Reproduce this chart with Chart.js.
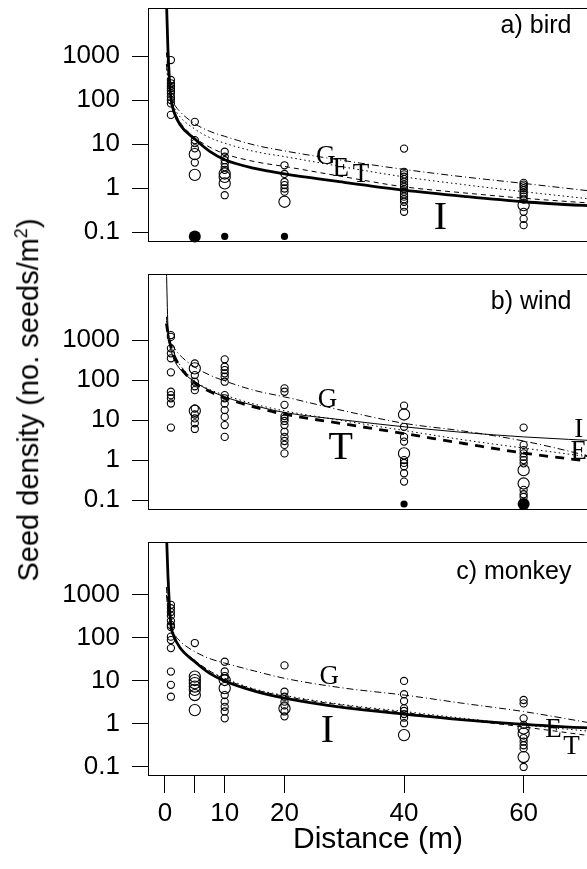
<!DOCTYPE html>
<html>
<head>
<meta charset="utf-8">
<script src="https://cdn.jsdelivr.net/npm/chart.js@4.4.1/dist/chart.umd.min.js"></script>
<style>
  html, body { margin: 0; padding: 0; width: 587px; height: 869px; overflow: hidden; background: #fff; }
  canvas.panel { position: absolute; left: 0; }
  .axis-title { position: absolute; font-family: 'Liberation Sans', Arial, Helvetica, sans-serif; color: #000; white-space: nowrap; }
  #ytitle { left: 28px; top: 400px; font-size: 29px; transform: translate(-50%, -50%) rotate(-90deg); }
  #ytitle sup { font-size: 18px; }
  #xtitle { left: 378px; top: 838px; font-size: 30px; transform: translate(-50%, -50%); }
</style>
</head>
<body>
<canvas id="bird" class="panel" width="620" height="250" style="top:0px"></canvas>
<canvas id="wind" class="panel" width="620" height="250" style="top:266px"></canvas>
<canvas id="monkey" class="panel" width="620" height="335" style="top:534px"></canvas>
<div id="ytitle" class="axis-title">Seed density (no. seeds/m<sup>2</sup>)</div>
<div id="xtitle" class="axis-title">Distance (m)</div>

<script>
// ────────────────────────────────────────
// Data
// ────────────────────────────────────────
const sampleDist = [1, 5, 10, 20, 40, 60];
const xTickVals = [0, 5, 10, 20, 40, 60];
const xTickLabels = ['0', '', '10', '20', '40', '60'];
const yTickVals = [0.1, 1, 10, 100, 1000];
const yTickLabels = ['0.1', '1', '10', '100', '1000'];
const ZERO_LEVEL = 0.08; // traps with no seeds, drawn under the 0.1 tick

// model curves, sampled at these distances
const curveX = [0.25, 0.5, 0.75, 1, 1.5, 2.5, 5, 7.5, 10, 15, 20, 30, 40, 50, 60, 75];

// a) bird
const birdDens = [
  [810, 285, 240, 210, 185, 163, 142, 118, 100, 84, 46],
  [32, 12.3, 10.5, 8, 3.8],
  [6.7, 5.2, 4.3, 3.6, 3.0, 2.6, 0.69],
  [3.3, 2.1, 1.38, 1.17, 0.98, 0.83],
  [7.9, 2.35, 2.05, 1.81, 1.6, 1.39, 1.2, 1.07, 0.95, 0.83, 0.72, 0.64, 0.56, 0.49, 0.38, 0.29],
  [1.32, 1.2, 1.1, 1.0, 0.9, 0.8, 0.72, 0.64, 0.55, 0.29, 0.2, 0.144],
];
const birdLarge = [[], [5.9, 2.0], [2.15, 1.8, 1.28], [0.49], [], [0.41]];
const birdZero = [0, 3, 1, 1, 0, 0];
const birdG = [650, 320, 190, 135, 85, 55, 29, 19.5, 15, 9.5, 7, 4.2, 2.66, 1.8, 1.28, 0.75];
const birdE = [650, 280, 170, 115, 70, 42, 22, 14, 10.5, 6.8, 5.2, 3.0, 1.8, 1.2, 0.83, 0.5];
const birdT = [1200, 450, 200, 120, 62, 32, 14, 8.5, 6.0, 4.0, 3.1, 1.8, 1.07, 0.78, 0.59, 0.42];
const birdI = [20000, 1500, 300, 110, 55, 28, 13, 6.8, 4.4, 2.8, 2.1, 1.35, 0.9, 0.65, 0.49, 0.37];
const birdTagX = [26.9, 29.4, 32.8, 46.1]; // G, E, T, I
const birdTagY = [5.1, 2.8, 1.97, 0.2];

// b) wind
const windDens = [
  [1330, 1200, 620, 465, 350, 156, 51, 42, 35, 26, 6.5],
  [260, 133, 91, 70, 56, 19.5, 13.8, 11, 8.3, 6],
  [330, 215, 178, 147, 121, 91, 42, 35, 26, 17.8, 12, 7.5, 3.8],
  [62, 51, 24, 12.6, 11, 9.5, 7.5, 5.1, 3.8, 3.0, 2.4, 1.47],
  [23, 6.8, 3.8, 2.9, 1.0, 0.85, 0.7, 0.47, 0.29],
  [6.5, 2.4, 1.78, 1.47, 1.2, 1.0, 0.83, 0.18, 0.14, 0.12],
];
const windLarge = [[], [196, 17], [], [], [13.8, 1.47], [0.56, 0.26]];
const windZero = [0, 0, 0, 0, 1, 3];
const windG = [3800, 1700, 1200, 900, 650, 420, 210, 133, 95, 55, 38, 17, 8.3, 5.3, 3.0, 0.9];
const windE = [3000, 1600, 1000, 720, 440, 240, 95, 58, 42, 25, 17, 9.5, 5.5, 3.2, 2.0, 1.0];
const windT = [2600, 1500, 950, 700, 420, 220, 85, 52, 36, 21, 14, 8, 4.6, 2.6, 1.5, 0.8];
const windI = [60000, 2200, 800, 560, 330, 190, 90, 55, 38, 23, 15.5, 10, 6.8, 4.9, 3.8, 2.9];
const windTagX = [27.2, 69.2, 29.4, 69.2];
const windTagY = [31.6, 1.62, 1.96, 5.6];

// c) monkey
const monkeyDens = [
  [590, 490, 400, 330, 250, 200, 180, 107, 89, 58, 16.5, 8.1, 4.3],
  [76],
  [28, 16.6, 13, 11.5, 4.7, 3.3, 2.5, 1.95, 1.35],
  [23, 5.6, 4.3, 3.3, 2.7, 1.95, 1.5],
  [10, 4.9, 3.4, 2.3, 2.0, 1.7, 1.4, 1.04],
  [3.6, 3.0, 1.35, 0.95, 0.47, 0.39, 0.32, 0.27, 0.1],
];
const monkeyLarge = [[], [12.6, 10.5, 8.9, 7.4, 6.2, 4.7, 2.1], [10.5, 6.8], [2.3], [0.55], [0.79, 0.6, 0.17]];
const monkeyZero = [0, 0, 0, 0, 0, 0];
const monkeyG = [1000, 480, 300, 210, 130, 85, 48, 33, 26, 17, 11.5, 6.8, 4.7, 3.0, 1.94, 0.85];
const monkeyE = [1500, 650, 320, 200, 115, 62, 30, 17, 11.5, 6.5, 4.6, 2.8, 1.95, 1.35, 0.95, 0.6];
const monkeyT = [1500, 650, 320, 200, 115, 62, 30, 17, 11, 6.3, 4.4, 2.7, 1.85, 1.25, 0.85, 0.45];
const monkeyI = [30000, 3000, 600, 200, 110, 60, 28, 15, 10, 5.8, 4.0, 2.4, 1.7, 1.25, 0.98, 0.75];
const monkeyTagX = [27.5, 65, 68, 27.2];
const monkeyTagY = [12.6, 0.72, 0.3, 0.66];

const modelNames = ['G', 'E', 'T', 'I'];

// ────────────────────────────────────────
// Drawing
// ────────────────────────────────────────
const SANS = "'Liberation Sans', Arial, Helvetica, sans-serif";
const SERIF = "'Liberation Serif', 'Times New Roman', Times, serif";

const DASH = { G: [7, 3, 1, 3], E: [1.5, 3], T: [5, 4], I: [] };

// frame + model letters + panel name
const panelText = {
    id: 'panelText',
    afterDatasetsDraw(chart, args, opts) {
        const { ctx, chartArea: a } = chart;
        const xs = chart.scales.x, ys = chart.scales.y;
        ctx.save();
        ctx.fillStyle = '#000';
        ctx.textBaseline = 'middle';

        ctx.textAlign = 'center';
        modelNames.forEach((m, i) => {
            ctx.font = (m === opts.best ? '40px ' : '27px ') + SERIF;
            ctx.fillText(m, xs.getPixelForValue(opts.tagX[i]), ys.getPixelForValue(opts.tagY[i]));
        });

        ctx.textAlign = 'right';
        ctx.font = '25px ' + SANS;
        ctx.fillText(opts.title, xs.getPixelForValue(opts.titleAt[0]), ys.getPixelForValue(opts.titleAt[1]));

        ctx.strokeStyle = '#000';
        ctx.lineWidth = 1;
        ctx.strokeRect(a.left + 0.5, a.top + 0.5, a.width, a.height);
        ctx.restore();
    },
};
Chart.register(panelText);

function samplePoints(dens) {
    const pts = [];
    sampleDist.forEach((d, i) => dens[i].forEach(v => pts.push({ x: d, y: v })));
    return pts;
}

function zeroPoints(zero) {
    const pts = [];
    sampleDist.forEach((d, i) => { if (zero[i] > 0) pts.push({ x: d, y: ZERO_LEVEL, n: zero[i] }); });
    return pts;
}

function curveSet(vals, model, best) {
    const thick = model === best;
    return {
        data: curveX.map((x, i) => ({ x, y: vals[i] })),
        showLine: true,
        pointRadius: 0,
        borderColor: '#000',
        borderWidth: thick ? 2.8 : 1,
        borderDash: thick ? DASH[model].map(d => d * 1.8) : DASH[model],
        cubicInterpolationMode: 'monotone',
        fill: false,
        order: 1,
    };
}

function makePanel(cfg) {
    const datasets = [
        {
            data: samplePoints(cfg.dens),
            pointRadius: 3.6,
            pointBorderWidth: 1.1,
            pointBorderColor: '#000',
            pointBackgroundColor: 'rgba(255,255,255,0)',
            order: 2,
        },
        {
            data: samplePoints(cfg.large),
            pointRadius: 5.6,
            pointBorderWidth: 1.1,
            pointBorderColor: '#000',
            pointBackgroundColor: 'rgba(255,255,255,0)',
            order: 2,
        },
        {
            data: zeroPoints(cfg.zero),
            pointRadius: ctx => (ctx.raw && ctx.raw.n > 1 ? 6 : 3.6),
            pointBorderWidth: 0,
            pointBackgroundColor: '#000',
            order: 2,
            clip: false,
        },
        curveSet(cfg.curves[0], 'G', cfg.best),
        curveSet(cfg.curves[1], 'E', cfg.best),
        curveSet(cfg.curves[2], 'T', cfg.best),
        curveSet(cfg.curves[3], 'I', cfg.best),
    ];

    new Chart(document.getElementById(cfg.id), {
        type: 'scatter',
        data: { datasets },
        options: {
            responsive: false,
            animation: false,
            events: [],
            devicePixelRatio: 1,
            layout: { padding: { top: 8, bottom: cfg.padBottom, left: 0, right: 5 } },
            plugins: {
                legend: { display: false },
                tooltip: { enabled: false },
                panelText: {
                    best: cfg.best,
                    tagX: cfg.tagX,
                    tagY: cfg.tagY,
                    title: cfg.title,
                    titleAt: cfg.titleAt,
                },
            },
            scales: {
                x: {
                    type: 'linear',
                    min: -2.83,
                    max: 75,
                    display: cfg.showX,
                    afterBuildTicks: s => { s.ticks = xTickVals.map(v => ({ value: v })); },
                    afterFit: s => {
                        s.height = cfg.showX ? 94 : 0;
                        s.paddingLeft = 0;
                        s.paddingRight = 0;
                    },
                    grid: { drawOnChartArea: false, drawTicks: true, tickLength: 18, color: '#000' },
                    border: { display: false },
                    ticks: {
                        autoSkip: false,
                        maxRotation: 0,
                        padding: 5,
                        color: '#000',
                        font: { family: SANS, size: 26 },
                        callback: (v, i) => xTickLabels[i],
                    },
                },
                y: {
                    type: 'logarithmic',
                    min: cfg.yMin,
                    max: cfg.yMax,
                    afterBuildTicks: s => { s.ticks = yTickVals.map(v => ({ value: v })); },
                    afterFit: s => { s.width = 148; s.paddingTop = 0; s.paddingBottom = 0; },
                    grid: { drawOnChartArea: false, drawTicks: true, tickLength: 16, color: '#000' },
                    border: { display: false },
                    ticks: {
                        autoSkip: false,
                        padding: 12,
                        color: '#000',
                        font: { family: SANS, size: 26 },
                        callback: (v, i) => yTickLabels[i],
                    },
                },
            },
        },
    });
}

makePanel({
    id: 'bird', dens: birdDens, large: birdLarge, zero: birdZero,
    curves: [birdG, birdE, birdT, birdI], best: 'I',
    tagX: birdTagX, tagY: birdTagY,
    title: 'a) bird', titleAt: [68, 4660],
    yMin: 0.063, yMax: 12300, padBottom: 9, showX: false,
});

makePanel({
    id: 'wind', dens: windDens, large: windLarge, zero: windZero,
    curves: [windG, windE, windT, windI], best: 'T',
    tagX: windTagX, tagY: windTagY,
    title: 'b) wind', titleAt: [68, 9100],
    yMin: 0.06, yMax: 44700, padBottom: 7, showX: false,
});

makePanel({
    id: 'monkey', dens: monkeyDens, large: monkeyLarge, zero: monkeyZero,
    curves: [monkeyG, monkeyE, monkeyT, monkeyI], best: 'I',
    tagX: monkeyTagX, tagY: monkeyTagY,
    title: 'c) monkey', titleAt: [68, 3470],
    yMin: 0.065, yMax: 17000, padBottom: 0, showX: true,
});
</script>
</body>
</html>
